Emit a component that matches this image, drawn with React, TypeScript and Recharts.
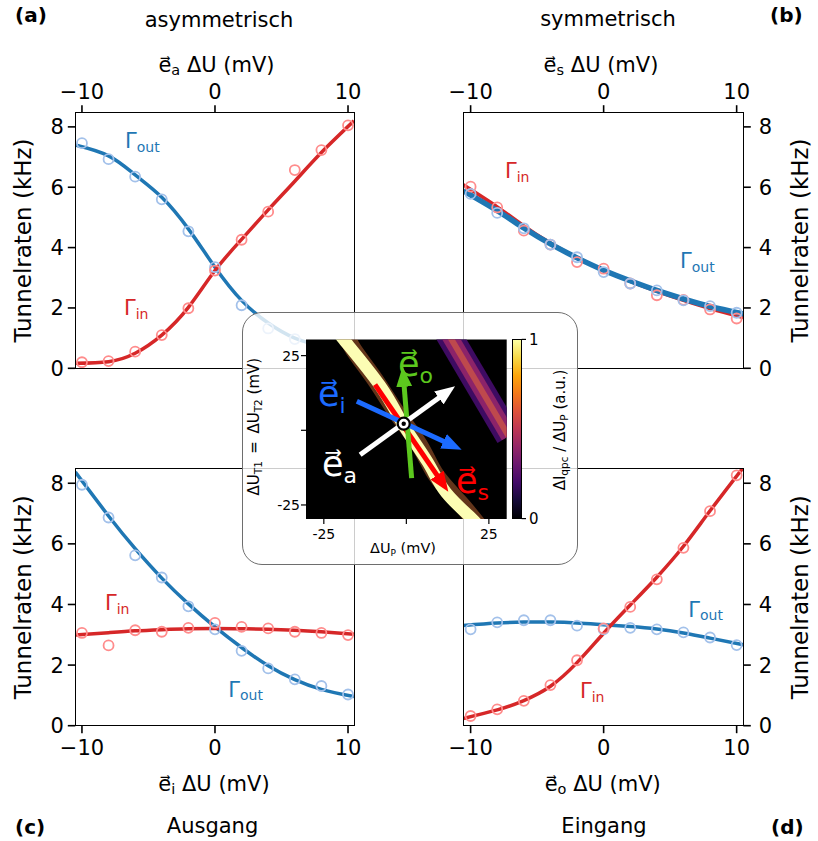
import React from 'react';
import { ComposedChart, Line, Scatter, XAxis, YAxis, ReferenceArea, ReferenceDot } from 'recharts';

const FONT = '"DejaVu Sans", sans-serif';
const BLUE = '#1f77b4';
const RED = '#d62728';
const BLUE_PT = '#a3c1ea';
const RED_PT = '#ff8c8c';

// measured detuning steps (mV)
const xs = [-10, -8, -6, -4, -2, 0, 2, 4, 6, 8, 10];
const fitXLeft = [-10.5, -8, -6, -4, -2, 0, 2, 4, 6, 8, 10.45];
const fitXRight = [-10.55, -8, -6, -4, -2, 0, 2, 4, 6, 8, 10.5];

// (a) asymmetrisch
const aOutPts = [7.46, 6.93, 6.35, 5.6, 4.54, 3.35, 2.09, 1.32, 0.97, 0.72, 0.55];
const aInPts = [0.2, 0.24, 0.55, 1.1, 1.99, 3.24, 4.26, 5.19, 6.57, 7.23, 8.05];
const aOutFit = [7.4, 7.04, 6.41, 5.67, 4.62, 3.35, 2.25, 1.5, 1.0, 0.75, 0.55];
const aInFit = [0.17, 0.22, 0.5, 1.1, 2.02, 3.24, 4.27, 5.25, 6.2, 7.15, 8.2];

// (b) symmetrisch
const bOutPts = [5.78, 5.15, 4.64, 4.1, 3.68, 3.19, 2.81, 2.58, 2.25, 2.06, 1.84];
const bInPts = [6.02, 5.33, 4.56, 4.1, 3.52, 3.3, 2.81, 2.42, 2.27, 1.95, 1.65];
const bOutFit = [5.88, 5.22, 4.65, 4.12, 3.66, 3.25, 2.9, 2.58, 2.3, 2.05, 1.8];
const bInFit = [6.08, 5.35, 4.72, 4.15, 3.67, 3.25, 2.88, 2.55, 2.25, 1.98, 1.68];

// (c) Ausgang
const cOutPts = [7.95, 6.87, 5.62, 4.89, 3.94, 3.18, 2.47, 1.89, 1.53, 1.31, 1.03];
const cInPts = [3.06, 2.65, 3.15, 3.1, 3.23, 3.39, 3.26, 3.21, 3.1, 3.06, 2.99];
const cOutFit = [8.37, 6.92, 5.84, 4.87, 4.02, 3.26, 2.58, 1.98, 1.52, 1.2, 0.96];
const cInFit = [2.99, 3.07, 3.13, 3.17, 3.2, 3.21, 3.2, 3.18, 3.15, 3.1, 3.02];

// (d) Eingang
const dOutPts = [3.18, 3.41, 3.48, 3.48, 3.3, 3.18, 3.23, 3.18, 3.08, 2.91, 2.66];
const dInPts = [0.32, 0.54, 0.82, 1.34, 2.16, 3.21, 3.92, 4.83, 5.87, 7.08, 8.26];
const dOutFit = [3.31, 3.39, 3.42, 3.42, 3.39, 3.33, 3.27, 3.19, 3.06, 2.89, 2.67];
const dInFit = [0.24, 0.52, 0.83, 1.3, 2.08, 3.05, 3.98, 4.9, 5.92, 7.09, 8.52];

const panelTicksX = [-10, 0, 10];
const panelTicksY = [0, 2, 4, 6, 8];

// inset: charge-stability map (mV)
const insetTicks = [-25, 0, 25];
const insetX = [-30.4, 30.4];
const insetY = [-29.7, 30.4];
const bandMain = [
  { x: -20.5, y: 33 }, { x: -19, y: 30.4 }, { x: -8, y: 15 }, { x: -1, y: 2 },
  { x: 6.5, y: -10.7 }, { x: 12, y: -20.8 }, { x: 20, y: -29.7 }, { x: 21.5, y: -32 },
];
const bandFringe = [
  { x: -18.5, y: 33 }, { x: -16, y: 27 }, { x: -9.5, y: 17 }, { x: -3, y: 6 },
  { x: 4, y: -5 }, { x: 9, y: -15 }, { x: 16, y: -24 }, { x: 22, y: -32 },
];
const bandSecond = [{ x: 12.3, y: 33 }, { x: 31, y: -2 }];
const arrowRed = [{ x: -9.5, y: 15.3 }, { x: 11.0, y: -17.8 }];
const arrowGreen = [{ x: 1.6, y: -16.0 }, { x: -0.9, y: 17.9 }];
const arrowBlue = [{ x: -15, y: 9.7 }, { x: 14.0, y: -5.1 }];
const arrowWhite = [{ x: -14, y: -8.2 }, { x: 12.3, y: 12.8 }];
const origin = { x: -0.8, y: 2.2 };

const ARROWS = [
  { id: 's', data: arrowRed, color: '#ff0000' },
  { id: 'o', data: arrowGreen, color: '#5cc81e' },
  { id: 'i', data: arrowBlue, color: '#1c6bff' },
  { id: 'a', data: arrowWhite, color: '#ffffff' },
];

const pts = (x: number[], y: number[]) => x.map((v, i) => ({ x: v, y: y[i] }));
const fmt = (v: number) => (v < 0 ? '\u2212' + Math.abs(v) : String(v));
const ring = (c: string) => (p: any) => (
  <circle cx={p.cx} cy={p.cy} r={5} fill="none" stroke={c} strokeWidth={1.8} />
);

type Series = { pts: number[]; fit: number[]; color: string; ptColor: string; w: number };

function Panel({ box, xDomain, fitX, xTop, yRight, series }: {
  box: number[]; xDomain: number[]; fitX: number[]; xTop: boolean; yRight: boolean; series: Series[];
}) {
  const [l, t, r, b] = box;
  const xH = 30;
  const yW = 44;
  const margin = {
    top: xTop ? t - xH : t,
    bottom: xTop ? 841 - b : 841 - b - xH,
    left: yRight ? l : l - yW,
    right: yRight ? 818 - r - yW : 818 - r,
  };
  const tick = { fontSize: 21, fill: '#000', fontFamily: FONT };
  return (
    <div style={{ position: 'absolute', left: 0, top: 0 }}>
      <ComposedChart width={818} height={841} margin={margin}>
        <XAxis
          type="number" dataKey="x" domain={xDomain} allowDataOverflow ticks={panelTicksX}
          orientation={xTop ? 'top' : 'bottom'} height={xH} axisLine={false}
          tickLine={{ stroke: '#000', strokeWidth: 1.6 }} tickSize={7.5} tickMargin={xTop ? 6 : 7}
          tick={tick} tickFormatter={fmt} interval={0}
        />
        <YAxis
          type="number" domain={[0, 8.47]} allowDataOverflow ticks={panelTicksY}
          orientation={yRight ? 'right' : 'left'} width={yW} axisLine={false}
          tickLine={{ stroke: '#000', strokeWidth: 1.6 }} tickSize={7.5} tickMargin={yRight ? 8 : 4}
          tick={tick} interval={0}
        />
        {series.map((s, i) => (
          <Scatter key={'p' + i} data={pts(xs, s.pts)} dataKey="y" shape={ring(s.ptColor)} isAnimationActive={false} />
        ))}
        {series.map((s, i) => (
          <Line key={'f' + i} data={pts(fitX, s.fit)} dataKey="y" type="natural" stroke={s.color}
            strokeWidth={s.w} dot={false} isAnimationActive={false} />
        ))}
      </ComposedChart>
    </div>
  );
}

const BOX_A = [75.3, 112.7, 354, 368.3];
const BOX_B = [463.3, 112.7, 743.3, 368.3];
const BOX_C = [75.3, 469, 354, 725.7];
const BOX_D = [463.3, 469, 743.3, 725.7];

function Frame({ box }: { box: number[] }) {
  const [l, t, r, b] = box;
  return (
    <div style={{
      position: 'absolute', left: l - 0.8, top: t - 0.8, width: r - l + 1.6, height: b - t + 1.6,
      border: '1.6px solid #000', boxSizing: 'border-box',
    }} />
  );
}

// tick label of the inset, the 0 tick keeps only its tick mark
const insetTick = (side: 'x' | 'y') => (p: any) => {
  const v = p.payload.value;
  if (v === 0) return <g />;
  return (
    <text x={p.x} y={p.y} dy={side === 'x' ? 12 : 5} textAnchor={side === 'x' ? 'middle' : 'end'}
      fontSize={14} fill="#000" fontFamily={FONT}>{String(v)}</text>
  );
};

function Inset() {
  return (
    <div style={{ position: 'absolute', left: 0, top: 0 }}>
      <ComposedChart width={818} height={841} margin={{ top: 339.5, bottom: 297, left: 266, right: 311.3 }}>
        <XAxis type="number" dataKey="x" domain={insetX} allowDataOverflow ticks={insetTicks}
          height={25} axisLine={false} tickLine={{ stroke: '#000', strokeWidth: 1.2 }} tickSize={5} tickMargin={3}
          tick={insetTick('x')} interval={0} />
        <YAxis type="number" domain={insetY} allowDataOverflow ticks={insetTicks}
          width={40} axisLine={false} tickLine={{ stroke: '#000', strokeWidth: 1.2 }} tickSize={5} tickMargin={1}
          tick={insetTick('y')} interval={0} />
        <ReferenceArea x1={insetX[0]} x2={insetX[1]} y1={insetY[0]} y2={insetY[1]} fill="#000" fillOpacity={1} stroke="none" />
        <Line data={bandSecond} dataKey="y" type="linear" stroke="#3e0b62" strokeWidth={26} dot={false} isAnimationActive={false} />
        <Line data={bandSecond} dataKey="y" type="linear" stroke="#8c2369" strokeWidth={16} dot={false} isAnimationActive={false} />
        <Line data={bandSecond} dataKey="y" type="linear" stroke="#e0623a" strokeWidth={6} strokeOpacity={0.6}
          dot={false} isAnimationActive={false} />
        <Line data={bandFringe} dataKey="y" type="natural" stroke="#d9763a" strokeWidth={17} strokeOpacity={0.45}
          dot={false} isAnimationActive={false} />
        <Line data={bandMain} dataKey="y" type="natural" stroke="#fcfdb4" strokeWidth={12} dot={false} isAnimationActive={false} />
        {ARROWS.map((a) => (
          <Line key={a.id} data={a.data} dataKey="y" type="linear" stroke={a.color} strokeWidth={5}
            markerEnd={`url(#head-${a.id})`} dot={false} isAnimationActive={false} />
        ))}
        <ReferenceDot x={origin.x} y={origin.y} r={6} fill="#fff" stroke="#000" strokeWidth={2.2} />
        <ReferenceDot x={origin.x} y={origin.y} r={2.2} fill="#000" stroke="none" />
      </ComposedChart>
    </div>
  );
}

const INFERNO = 'linear-gradient(to top, #000004 0%, #160b39 10%, #420a68 20%, #6a176e 30%, #932667 40%, #bc3754 50%, #dd513a 60%, #f37819 70%, #fca50a 80%, #f6d746 90%, #fcffa4 100%)';
const VEC = '\u20D7';

export default function App() {
  const txt = { fontFamily: FONT, fill: '#000' } as const;
  return (
    <div style={{ position: 'absolute', left: 0, top: 0, width: 818, height: 841, background: '#fff', overflow: 'hidden' }}>
      <svg width={0} height={0} style={{ position: 'absolute' }}>
        <defs>
          {ARROWS.map((a) => (
            <marker key={a.id} id={'head-' + a.id} viewBox="0 0 10 8" refX={5} refY={4}
              markerWidth={4} markerHeight={3.2} orient="auto" markerUnits="strokeWidth">
              <path d="M0,0 L10,4 L0,8 z" fill={a.color} />
            </marker>
          ))}
        </defs>
      </svg>

      <Panel box={BOX_A} xDomain={[-10.5, 10.45]} fitX={fitXLeft} xTop yRight={false} series={[
        { pts: aOutPts, fit: aOutFit, color: BLUE, ptColor: BLUE_PT, w: 3.5 },
        { pts: aInPts, fit: aInFit, color: RED, ptColor: RED_PT, w: 3.5 },
      ]} />
      <Panel box={BOX_B} xDomain={[-10.55, 10.5]} fitX={fitXRight} xTop yRight series={[
        { pts: bInPts, fit: bInFit, color: RED, ptColor: RED_PT, w: 3.5 },
        { pts: bOutPts, fit: bOutFit, color: BLUE, ptColor: BLUE_PT, w: 5.5 },
      ]} />
      <Panel box={BOX_C} xDomain={[-10.5, 10.45]} fitX={fitXLeft} xTop={false} yRight={false} series={[
        { pts: cOutPts, fit: cOutFit, color: BLUE, ptColor: BLUE_PT, w: 3.5 },
        { pts: cInPts, fit: cInFit, color: RED, ptColor: RED_PT, w: 3.5 },
      ]} />
      <Panel box={BOX_D} xDomain={[-10.55, 10.5]} fitX={fitXRight} xTop={false} yRight series={[
        { pts: dOutPts, fit: dOutFit, color: BLUE, ptColor: BLUE_PT, w: 3.5 },
        { pts: dInPts, fit: dInFit, color: RED, ptColor: RED_PT, w: 3.5 },
      ]} />
      <Frame box={BOX_A} />
      <Frame box={BOX_B} />
      <Frame box={BOX_C} />
      <Frame box={BOX_D} />

      <svg width={818} height={841} style={{ position: 'absolute', left: 0, top: 0 }}>
        <g style={{ fontFamily: FONT }}>
          <text x={15} y={22.4} fontSize={20} fontWeight="bold" {...txt}>(a)</text>
          <text x={770} y={22.4} fontSize={20} fontWeight="bold" {...txt}>(b)</text>
          <text x={15} y={834} fontSize={20} fontWeight="bold" {...txt}>(c)</text>
          <text x={771} y={834} fontSize={20} fontWeight="bold" {...txt}>(d)</text>
          <text x={219} y={26.5} fontSize={21} textAnchor="middle" {...txt}>asymmetrisch</text>
          <text x={608} y={26} fontSize={21} textAnchor="middle" {...txt}>symmetrisch</text>
          <text x={212.5} y={833.3} fontSize={21} textAnchor="middle" {...txt}>Ausgang</text>
          <text x={604} y={833.3} fontSize={21} textAnchor="middle" {...txt}>Eingang</text>

          <text x={216.5} y={71.5} fontSize={21} textAnchor="middle" {...txt}>
            e{VEC}<tspan fontSize={14.5} dy={3.5}>a</tspan><tspan dy={-3.5}> ΔU (mV)</tspan>
          </text>
          <text x={601} y={71.5} fontSize={21} textAnchor="middle" {...txt}>
            e{VEC}<tspan fontSize={14.5} dy={3.5}>s</tspan><tspan dy={-3.5}> ΔU (mV)</tspan>
          </text>
          <text x={214} y={790.7} fontSize={21} textAnchor="middle" {...txt}>
            e{VEC}<tspan fontSize={14.5} dy={3.5}>i</tspan><tspan dy={-3.5}> ΔU (mV)</tspan>
          </text>
          <text x={602.7} y={790.7} fontSize={21} textAnchor="middle" {...txt}>
            e{VEC}<tspan fontSize={14.5} dy={3.5}>o</tspan><tspan dy={-3.5}> ΔU (mV)</tspan>
          </text>

          <text transform="translate(31,240.5) rotate(-90)" fontSize={23} textAnchor="middle" {...txt}>Tunnelraten (kHz)</text>
          <text transform="translate(31,597.3) rotate(-90)" fontSize={23} textAnchor="middle" {...txt}>Tunnelraten (kHz)</text>
          <text transform="translate(808,240.5) rotate(-90)" fontSize={23} textAnchor="middle" {...txt}>Tunnelraten (kHz)</text>
          <text transform="translate(808,597.3) rotate(-90)" fontSize={23} textAnchor="middle" {...txt}>Tunnelraten (kHz)</text>

          <text x={125} y={148.3} fontSize={21} fill={BLUE}>Γ<tspan fontSize={14} dy={3.5}>out</tspan></text>
          <text x={124} y={315} fontSize={21} fill={RED}>Γ<tspan fontSize={14} dy={3.5}>in</tspan></text>
          <text x={505} y={178.3} fontSize={21} fill={RED}>Γ<tspan fontSize={14} dy={3.5}>in</tspan></text>
          <text x={680} y={268.3} fontSize={21} fill={BLUE}>Γ<tspan fontSize={14} dy={3.5}>out</tspan></text>
          <text x={105} y={610} fontSize={21} fill={RED}>Γ<tspan fontSize={14} dy={3.5}>in</tspan></text>
          <text x={228.3} y={696.7} fontSize={21} fill={BLUE}>Γ<tspan fontSize={14} dy={3.5}>out</tspan></text>
          <text x={688.3} y={616.7} fontSize={21} fill={BLUE}>Γ<tspan fontSize={14} dy={3.5}>out</tspan></text>
          <text x={580} y={698.3} fontSize={21} fill={RED}>Γ<tspan fontSize={14} dy={3.5}>in</tspan></text>
        </g>
      </svg>

      <div style={{
        position: 'absolute', left: 241.7, top: 311.7, width: 336.3, height: 253.3, borderRadius: 20,
        background: 'rgba(255,255,255,0.8)', border: '1.5px solid #6e6e6e', boxSizing: 'border-box',
      }} />
      <Inset />
      <div style={{
        position: 'absolute', left: 511.7, top: 339, width: 10, height: 180, background: INFERNO,
        border: '0.8px solid #000', boxSizing: 'border-box',
      }} />

      <svg width={818} height={841} style={{ position: 'absolute', left: 0, top: 0 }}>
        <g style={{ fontFamily: FONT }}>
          <line x1={521.7} x2={526} y1={339.4} y2={339.4} stroke="#000" strokeWidth={1.2} />
          <line x1={521.7} x2={526} y1={518.6} y2={518.6} stroke="#000" strokeWidth={1.2} />
          <text x={529} y={345} fontSize={15} {...txt}>1</text>
          <text x={529} y={524} fontSize={15} {...txt}>0</text>
          <text transform="translate(565,430) rotate(-90)" fontSize={15} textAnchor="middle" {...txt}>
            ΔI<tspan fontSize={10.5} dy={3}>qpc</tspan><tspan dy={-3}> / ΔU</tspan><tspan fontSize={10.5} dy={3}>P</tspan><tspan dy={-3}> (a.u.)</tspan>
          </text>
          <text transform="translate(259,426.7) rotate(-90)" fontSize={15} textAnchor="middle" {...txt}>
            ΔU<tspan fontSize={10.5} dy={3}>T1</tspan><tspan dy={-3}>{'\u2002'}={'\u2002'}ΔU</tspan><tspan fontSize={10.5} dy={3}>T2</tspan><tspan dy={-3}> (mV)</tspan>
          </text>
          <text x={403} y={553} fontSize={14.5} textAnchor="middle" {...txt}>
            ΔU<tspan fontSize={9} dy={3}>P</tspan><tspan dy={-3}> (mV)</tspan>
          </text>

          <text x={398} y={375.5} fontSize={35} fill="#5cc81e">e{VEC}<tspan fontSize={22} dy={7}>o</tspan></text>
          <text x={318} y={406} fontSize={35} fill="#1c6bff">e{VEC}<tspan fontSize={22} dy={7}>i</tspan></text>
          <text x={322} y={475.5} fontSize={35} fill="#ffffff">e{VEC}<tspan fontSize={22} dy={7}>a</tspan></text>
          <text x={456} y={493.3} fontSize={35} fill="#ff0000">e{VEC}<tspan fontSize={22} dy={7}>s</tspan></text>
        </g>
      </svg>
    </div>
  );
}
